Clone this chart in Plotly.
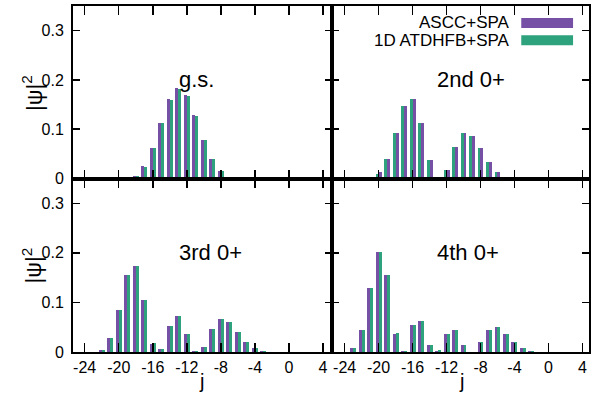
import plotly.graph_objects as go

# ---------------- data ----------------
series_names = ["ASCC+SPA", "1D ATDHFB+SPA"]
panel_labels = ["g.s.", "2nd 0+", "3rd 0+", "4th 0+"]

j_gs = [-19, -18, -17, -16, -15, -14, -13, -12, -11, -10, -9, -8, -7, -6]
gs_ascc = [0.002, 0.006, 0.025, 0.061, 0.112, 0.161, 0.184, 0.169, 0.128, 0.079, 0.040, 0.016, 0.004, 0.001]
gs_atdhfb = [0.002, 0.006, 0.024, 0.061, 0.112, 0.160, 0.182, 0.168, 0.127, 0.078, 0.040, 0.015, 0.004, 0.001]

j_2nd = [-21, -20, -19, -18, -17, -16, -15, -14, -13, -12, -11, -10, -9, -8, -7, -6, -5]
s2_ascc = [0.002, 0.013, 0.040, 0.092, 0.148, 0.161, 0.112, 0.037, 0.0, 0.018, 0.064, 0.092, 0.087, 0.061, 0.033, 0.014, 0.004]
s2_atdhfb = [0.002, 0.010, 0.040, 0.092, 0.148, 0.161, 0.112, 0.037, 0.0, 0.017, 0.064, 0.093, 0.087, 0.061, 0.033, 0.014, 0.003]

j_3rd = [-22, -21, -20, -19, -18, -17, -16, -15, -14, -13, -12, -11, -10, -9, -8, -7, -6, -5, -4, -3]
s3_ascc = [0.005, 0.028, 0.085, 0.156, 0.174, 0.104, 0.017, 0.006, 0.053, 0.072, 0.036, 0.002, 0.011, 0.046, 0.067, 0.061, 0.040, 0.020, 0.008, 0.002]
s3_atdhfb = [0.005, 0.029, 0.085, 0.156, 0.174, 0.104, 0.018, 0.006, 0.053, 0.072, 0.036, 0.002, 0.011, 0.046, 0.067, 0.061, 0.040, 0.021, 0.009, 0.002]

j_4th = [-23, -22, -21, -20, -19, -18, -17, -16, -15, -14, -13, -12, -11, -10, -9, -8, -7, -6, -5, -4, -3, -2]
s4_ascc = [0.0075, 0.045, 0.130, 0.201, 0.156, 0.037, 0.003, 0.055, 0.063, 0.014, 0.003, 0.037, 0.044, 0.014, 0.0, 0.021, 0.045, 0.051, 0.037, 0.021, 0.008, 0.003]
s4_atdhfb = [0.0075, 0.045, 0.130, 0.201, 0.156, 0.038, 0.003, 0.055, 0.063, 0.014, 0.004, 0.037, 0.044, 0.014, 0.0, 0.021, 0.045, 0.051, 0.037, 0.021, 0.008, 0.003]

x_tickvals = [-24, -20, -16, -12, -8, -4, 0, 4]
x_ticktext = ["-24", "-20", "-16", "-12", "-8", "-4", "0", "4"]
y_tickvals = [0, 0.1, 0.2, 0.3]
y_ticktext = ["0", "0.1", "0.2", "0.3"]

# ---------------- style ----------------
PURPLE = "#7550a5"
GREEN = "#2ea27c"
FONT = "Liberation Sans, Arial, Helvetica, sans-serif"
BW = 0.35

fig = go.Figure()

panels = [
    (j_gs, gs_ascc, gs_atdhfb, "x", "y", False),
    (j_2nd, s2_ascc, s2_atdhfb, "x2", "y2", True),
    (j_3rd, s3_ascc, s3_atdhfb, "x3", "y3", False),
    (j_4th, s4_ascc, s4_atdhfb, "x4", "y4", False),
]
for jv, a, b, xa, ya, swap in panels:
    off_a, off_b = (0.0, -BW) if swap else (-BW, 0.0)
    fig.add_trace(go.Bar(x=jv, y=a, width=BW, offset=off_a, marker_color=PURPLE,
                         marker_line_width=0, xaxis=xa, yaxis=ya, showlegend=False,
                         name=series_names[0]))
    fig.add_trace(go.Bar(x=jv, y=b, width=BW, offset=off_b, marker_color=GREEN,
                         marker_line_width=0, xaxis=xa, yaxis=ya, showlegend=False,
                         name=series_names[1]))

# plot area in px: x 73..591, y 5..352
L, R, T, B = 73, 591, 5, 352
W, H = R - L, B - T
xm = (333 - L) / W
ym = (B - 178) / H

def xax(domain, rng, labels, anchor):
    return dict(domain=domain, range=rng, anchor=anchor, tickmode="array",
                tickvals=x_tickvals, ticktext=x_ticktext, showticklabels=labels,
                ticks="inside", ticklen=9, tickwidth=1.5, tickcolor="black",
                showline=True, linewidth=2, linecolor="black", mirror="ticks",
                showgrid=False, zeroline=False,
                tickfont=dict(family=FONT, size=16, color="black"))

def yax(domain, labels, anchor):
    return dict(domain=domain, range=[0, 0.35], anchor=anchor, tickmode="array",
                tickvals=y_tickvals, ticktext=y_ticktext, showticklabels=labels,
                ticks="inside", ticklen=7, tickwidth=1.5, tickcolor="black",
                showline=True, linewidth=2, linecolor="black", mirror="ticks",
                showgrid=False, zeroline=False, ticklabelstandoff=4,
                tickfont=dict(family=FONT, size=16, color="black"))

fig.update_layout(
    width=595, height=399,
    margin=dict(l=L, r=595 - R, t=T, b=399 - B, pad=0),
    paper_bgcolor="white", plot_bgcolor="white",
    barmode="overlay", bargap=0,
    font=dict(family=FONT, size=16, color="black"),
    xaxis=xax([0, xm], [-25.37, 5.05], False, "y"),
    yaxis=yax([ym, 1], True, "x"),
    xaxis2=xax([xm, 1], [-25.49, 4.78], False, "y2"),
    yaxis2=yax([ym, 1], False, "x2"),
    xaxis3=xax([0, xm], [-25.37, 5.05], True, "y3"),
    yaxis3=yax([0, ym], True, "x3"),
    xaxis4=xax([xm, 1], [-25.49, 4.78], True, "y4"),
    yaxis4=yax([0, ym], False, "x4"),
)

# panel labels
for lab, xr, yr in zip(panel_labels, ["x", "x2", "x3", "x4"], ["y", "y2", "y3", "y4"]):
    fig.add_annotation(text=lab, xref=xr + " domain", yref=yr, x=0.4, y=0.2,
                       xanchor="left", yanchor="middle", showarrow=False,
                       font=dict(family=FONT, size=22, color="black"))

# axis titles
def px_x(p):
    return (p - L) / W

def px_y(p):
    return (B - p) / H

for yc in [92, 265]:
    fig.add_annotation(text="|ψ|<sup>2</sup>", xref="paper", yref="paper",
                       x=px_x(32), y=px_y(yc), xanchor="center", yanchor="middle",
                       textangle=-90, showarrow=False,
                       font=dict(family=FONT, size=22, color="black"))
for xc in [202, 463]:
    fig.add_annotation(text="j", xref="paper", yref="paper",
                       x=px_x(xc), y=px_y(381), xanchor="center", yanchor="middle",
                       showarrow=False, font=dict(family=FONT, size=20, color="black"))

# legend (manual)
for name, col, yc in [(series_names[0], PURPLE, 22), (series_names[1], GREEN, 39.3)]:
    fig.add_shape(type="rect", xref="paper", yref="paper",
                  x0=px_x(523), x1=px_x(575), y0=px_y(yc - 5), y1=px_y(yc + 5),
                  fillcolor=col, line=dict(width=0))
    fig.add_annotation(text=name, xref="paper", yref="paper", x=px_x(514), y=px_y(yc),
                       xanchor="right", yanchor="middle", showarrow=False,
                       font=dict(family=FONT, size=17, color="black"))

fig.write_html("out.html", config={"displayModeBar": False, "staticPlot": True},
               post_script="document.body.style.margin='0';document.body.style.padding='0';")
